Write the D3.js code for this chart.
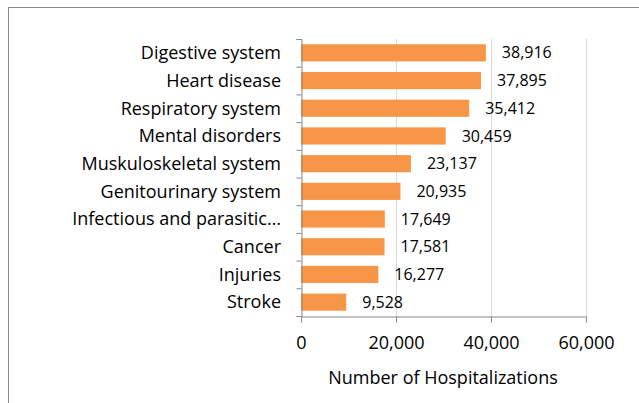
<!DOCTYPE html>
<html>
<head>
<meta charset="utf-8">
<script src="https://cdn.jsdelivr.net/npm/d3@7.9.0/dist/d3.min.js"></script>
<style>
  body { margin: 0; background: #fff; }
  svg { font-family: "Open Sans", sans-serif; }
</style>
</head>
<body>
<svg id="chart" width="639" height="403"></svg>
<script>
// ===== Data =====
const categories = [
  'Digestive system', 'Heart disease', 'Respiratory system', 'Mental disorders',
  'Muskuloskeletal system', 'Genitourinary system', 'Infectious and parasitic…',
  'Cancer', 'Injuries', 'Stroke'
];
const hospitalizations = [38916, 37895, 35412, 30459, 23137, 20935, 17649, 17581, 16277, 9528];
const xTicks = [0, 20000, 40000, 60000];

const svg = d3.select('#chart');

// frame
svg.append('rect')
  .attr('x', 8.5).attr('y', 7.5)
  .attr('width', 700).attr('height', 500)
  .attr('fill', 'none').attr('stroke', '#8c8c8c');

const x = d3.scaleLinear().domain([0, 60000]).range([301, 586]);
const y = d3.scaleBand().domain(categories).range([39, 316]).paddingInner(0.38).paddingOuter(0.19);

// gridlines
svg.append('g')
  .selectAll('line')
  .data(xTicks.slice(1))
  .join('line')
  .attr('x1', d => x(d) + 0.5).attr('x2', d => x(d) + 0.5)
  .attr('y1', 39).attr('y2', 316)
  .attr('stroke', '#d9d9d9');

// bars
svg.append('g')
  .selectAll('rect')
  .data(hospitalizations)
  .join('rect')
  .attr('x', x(0))
  .attr('y', (d, i) => y(categories[i]))
  .attr('width', d => x(d) - x(0))
  .attr('height', y.bandwidth())
  .attr('fill', '#f79646');

// value labels
svg.append('g')
  .selectAll('text')
  .data(hospitalizations)
  .join('text')
  .attr('x', d => x(d) + 16)
  .attr('y', (d, i) => y(categories[i]) + y.bandwidth() / 2)
  .attr('dy', '0.35em')
  .attr('font-size', 16)
  .attr('fill', '#000')
  .text(d => d3.format(',')(d));

// y axis
const yAxis = d3.axisLeft(d3.scaleLinear().domain([0, 10]).range([39, 316]))
  .tickValues(d3.range(11)).tickSize(5).tickFormat('');
svg.append('g')
  .attr('transform', 'translate(301.5,0)')
  .call(yAxis)
  .call(g => g.selectAll('line, path').attr('stroke', '#868686'));

// category labels
svg.append('g')
  .selectAll('text')
  .data(categories)
  .join('text')
  .attr('x', 281)
  .attr('y', d => y(d) + y.bandwidth() / 2)
  .attr('dy', '0.35em')
  .attr('text-anchor', 'end')
  .attr('font-size', 18)
  .attr('fill', '#000')
  .text(d => d);

// x axis
const xAxis = d3.axisBottom(x).tickValues(xTicks).tickSize(6).tickSizeOuter(0)
  .tickFormat(d3.format(','));
svg.append('g')
  .attr('transform', 'translate(0,316.5)')
  .call(xAxis)
  .call(g => g.selectAll('line, path').attr('stroke', '#868686'))
  .call(g => g.selectAll('text')
    .attr('font-size', 18).attr('fill', '#000')
    .attr('font-family', '"Open Sans", sans-serif')
    .attr('y', 20));

svg.append('text')
  .attr('x', 443).attr('y', 378).attr('dy', '0.35em')
  .attr('text-anchor', 'middle')
  .attr('font-size', 18)
  .text('Number of Hospitalizations');
</script>
</body>
</html>
